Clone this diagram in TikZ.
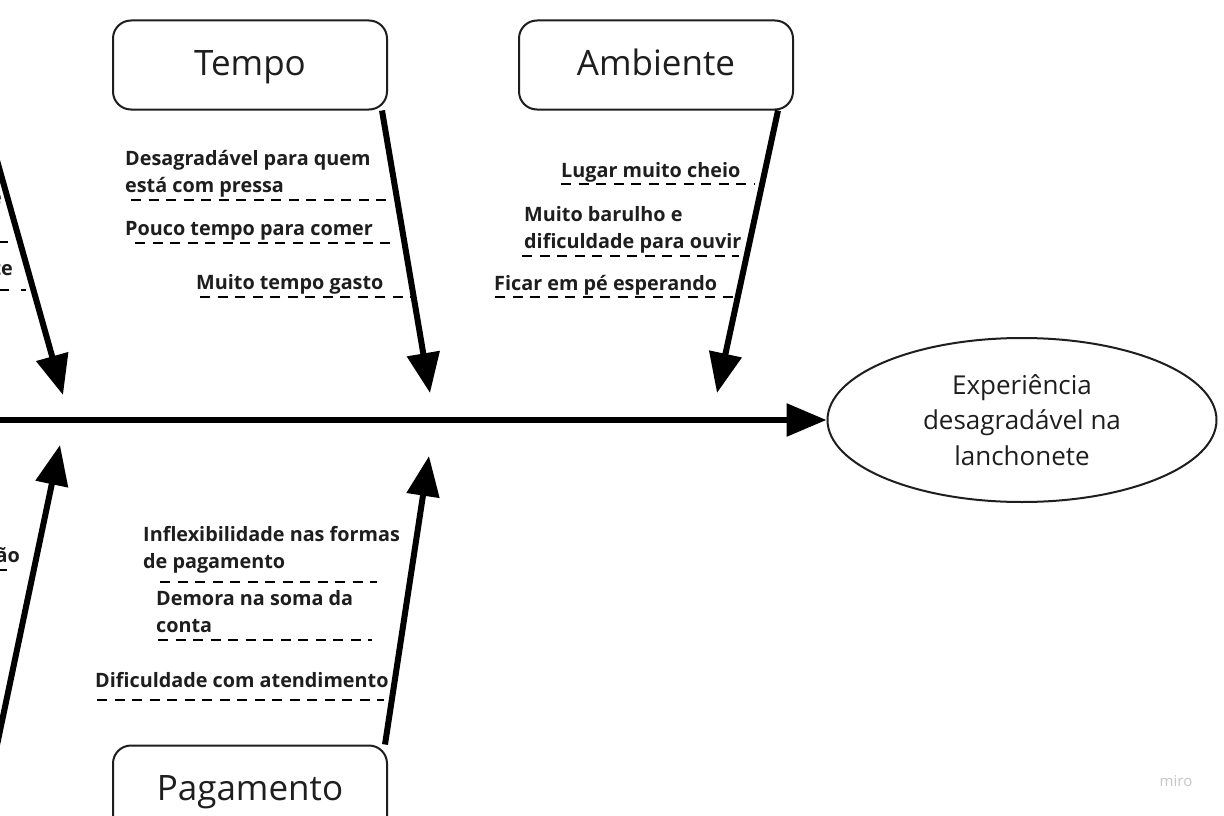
\documentclass[tikz,border=0pt]{standalone}
\usepackage{fontspec}
\setmainfont{Open Sans}
\usetikzlibrary{arrows.meta,shapes.geometric}
\definecolor{ink}{HTML}{1E1E1E}
\begin{document}
\begin{tikzpicture}[x=1pt,y=-1pt,
  cat/.style={draw=ink, line width=2pt, rounded corners=18pt, minimum width=274pt, minimum height=89pt, inner sep=0pt, text=ink, text height=27pt, text depth=7pt, font=\fontsize{35}{40}\selectfont},
  bone/.style={line width=6pt, -{Triangle[length=40pt,width=32pt]}},
  lbl/.style={font=\bfseries\fontsize{19.8}{27}\selectfont, text=ink, anchor=base west, inner sep=0pt, align=left},
  dl/.style={line width=2pt, dash pattern=on 10pt off 7.5pt}
]
\clip (0,0) rectangle (1224,816);
\fill[white] (0,0) rectangle (1224,816);

% category boxes
\node[cat] (tempo) at (250,65) {Tempo};
\node[cat] (amb) at (656,65) {Ambiente};
\node[cat] (pag) at (250,790) {Pagamento};

% effect
\node[ellipse, draw=ink, line width=2pt, minimum width=389pt, minimum height=164pt, inner sep=0pt, align=center, text=ink, font=\fontsize{26}{35.5}\selectfont] (eff) at (1022,420) {Experiência\\desagradável na\\lanchonete};

% coordinates for free ends and tips
\coordinate (spine0) at (-20,420);
\coordinate (tipT) at (430,393);
\coordinate (tipA) at (717,393);
\coordinate (tipP) at (429,456);
\coordinate (tipL1) at (63,395);
\coordinate (startL1) at (-20,100);
\coordinate (tipL2) at (60,445);
\coordinate (startL2) at (-20,826);

% spine and bones
\draw[bone] (spine0) -- (eff.west);
\draw[bone] ([xshift=-6pt]tempo.south east) -- (tipT);
\draw[bone] ([xshift=-16pt]amb.south east) -- (tipA);
\draw[bone] ([xshift=-3pt]pag.north east) -- (tipP);
\draw[bone] (startL1) -- (tipL1);
\draw[bone] (startL2) -- (tipL2);

% Tempo causes (base = baseline of last line)
\node[lbl] (t1) at (125,192) {Desagradável para quem\\está com pressa};
\node[lbl] (t2) at (125,235) {Pouco tempo para comer};
\node[lbl] (t3) at (196,289) {Muito tempo gasto};
\draw[dl] (131,200) -- (392,200);
\draw[dl] (135,243) -- (397,243);
\draw[dl] (200,297) -- (413,297);

% Ambiente causes
\node[lbl] (a1) at (561,177) {Lugar muito cheio};
\node[lbl] (a2) at (524,248) {Muito barulho e\\dificuldade para ouvir};
\node[lbl] (a3) at (494,290) {Ficar em pé esperando};
\draw[dl] (561,184) -- (755,184);
\draw[dl] (522,256) -- (739,256);
\draw[dl] (495,297) -- (737,297);

% Pagamento causes
\node[lbl] (p1) at (143,568) {Inflexibilidade nas formas\\de pagamento};
\node[lbl] (p2) at (156,632) {Demora na soma da\\conta};
\node[lbl] (p3) at (95,687) {Dificuldade com atendimento};
\draw[dl] (160,582) -- (377,582);
\draw[dl] (158,640) -- (372,640);
\draw[dl] (97,700) -- (384,700);

% cut-off fragments at the left edge
\node[lbl, anchor=base east] (f1) at (2,204) {e};
\node[lbl, anchor=base east] (f2) at (13,275) {te};
\node[lbl, anchor=base east] (f3) at (20,562) {ão};
\draw[line width=2pt] (-2,242) -- (8,242);
\draw[line width=2pt] (-2,290) -- (9,290);
\draw[line width=2pt] (21,290) -- (26,290);
\draw[line width=2pt] (-2,570) -- (7,570);

% watermark
\node[text=black!22, font=\fontsize{15}{15}\selectfont, inner sep=0pt] (miro) at (1176,781) {miro};
\end{tikzpicture}
\end{document}
